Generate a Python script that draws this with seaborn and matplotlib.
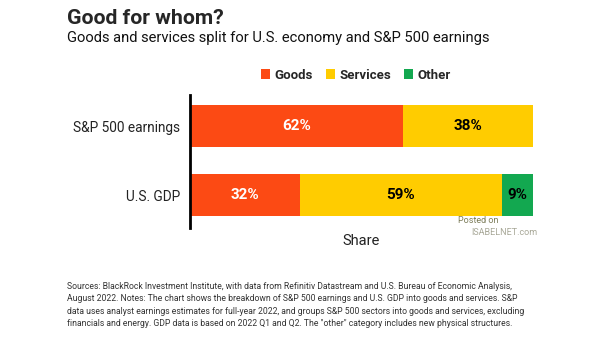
import matplotlib
matplotlib.use("Agg")
import matplotlib.pyplot as plt
import seaborn as sns
import pandas as pd
import numpy as np
from matplotlib.patches import Patch

categories = ["S&P 500 earnings", "U.S. GDP"]
goods = [62, 32]
services = [38, 59]
other = [0, 9]
series_names = ["Goods", "Services", "Other"]
colors = ["#FC4A14", "#FFCC00", "#13A850"]
label_colors = ["white", "black", "black"]

sns.set_theme(style="white")
plt.rcParams["font.family"] = ["Roboto", "DejaVu Sans"]

fig = plt.figure(figsize=(6.05, 3.41), dpi=100)
ax = fig.add_axes([0.314, 0.331, 0.567, 0.39])

df = pd.DataFrame({"cat": categories, "Goods": goods, "Services": services, "Other": other})
df["c3"] = df["Goods"] + df["Services"] + df["Other"]
df["c2"] = df["Goods"] + df["Services"]
df["c1"] = df["Goods"]

for col, colr in zip(["c3", "c2", "c1"], colors[::-1]):
    sns.barplot(data=df, y="cat", x=col, color=colr, orient="h", width=0.6,
                saturation=1, ax=ax, errorbar=None, edgecolor="none")

vals = [goods, services, other]
for i, cat in enumerate(categories):
    left = 0
    for s in range(3):
        v = vals[s][i]
        if v > 0:
            ax.text(left + v / 2, i, f"{v}%", ha="center", va="center",
                    color=label_colors[s], fontsize=11, fontweight="bold")
        left += v

ax.set_xlim(0, 100)
ax.set_ylim(1.48, -0.45)
ax.set_xticks([])
ax.set_ylabel("")
ax.set_xlabel("Share", fontsize=10.5, color="#222222", labelpad=4)
ax.tick_params(axis="y", length=0, labelsize=9.8, pad=7, colors="#222222")
for s in ["top", "right", "bottom"]:
    ax.spines[s].set_visible(False)
ax.spines["left"].set_color("black")
ax.spines["left"].set_linewidth(2)

handles = [Patch(facecolor=c, edgecolor="none") for c in colors]
fig.legend(handles, series_names, loc="center", bbox_to_anchor=(0.588, 0.78), ncol=3,
           frameon=False, handlelength=0.7, handleheight=0.7, handletextpad=0.3,
           columnspacing=1.0, prop={"weight": "bold", "size": 9.5})

fig.text(0.111, 0.945, "Good for whom?", fontsize=15.3, fontweight="bold", va="center")
fig.text(0.111, 0.888, "Goods and services split for U.S. economy and S&P 500 earnings",
         fontsize=10.6, va="center", color="#111111")

ax.text(0.78, 0.06, "Posted on", transform=ax.transAxes, fontsize=6.5, color="#7d7d5a",
        ha="left", va="center")
ax.text(0.82, -0.03, "ISABELNET.com", transform=ax.transAxes, fontsize=6.5, color="#a8a898",
        ha="left", va="center")

foot = ("Sources: BlackRock Investment Institute, with data from Refinitiv Datastream and U.S. Bureau of Economic Analysis,\n"
        "August 2022. Notes: The chart shows the breakdown of S&P 500 earnings and U.S. GDP into goods and services. S&P\n"
        "data uses analyst earnings estimates for full-year 2022, and groups S&P 500 sectors into goods and services, excluding\n"
        "financials and energy. GDP data is based on 2022 Q1 and Q2. The \"other\" category includes new physical structures.")
fig.text(0.111, 0.172, foot, fontsize=6.2, va="top", color="#333333", linespacing=1.45)

fig.savefig("out.png", dpi=100)
